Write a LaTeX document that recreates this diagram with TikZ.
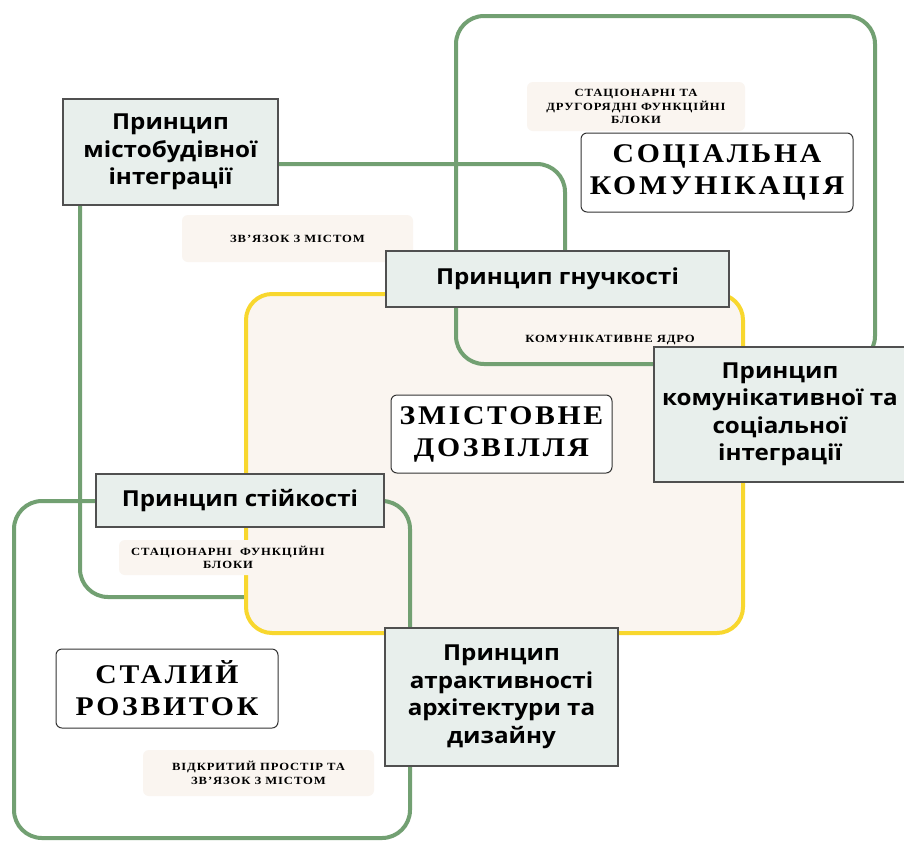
\documentclass[tikz,border=0pt]{standalone}
\usepackage{fontspec}
\setmainfont{Liberation Serif}
\newfontfamily\sansbold[FakeStretch=1.1]{Open Sans}
\newfontfamily\titlefont[LetterSpace=10,FakeStretch=1.1]{Liberation Serif}
\newfontfamily\labelfont[LetterSpace=8,FakeStretch=1.15]{Liberation Serif}
\definecolor{grn}{HTML}{72A072}
\definecolor{ylw}{HTML}{F8D72E}
\definecolor{beige}{HTML}{FAF5F0}
\definecolor{boxfill}{HTML}{E8EFEC}
\definecolor{boxline}{HTML}{505050}
\tikzset{
  region/.style={draw=grn, line width=4pt, rounded corners=28pt},
  core/.style={draw=ylw, fill=beige, line width=4pt, rounded corners=26pt},
  pbox/.style={draw=boxline, line width=1.2pt, fill=boxfill, align=center, inner sep=0pt,
    font=\sansbold\bfseries\fontsize{22}{27.5}\selectfont},
  tbox/.style={draw=black!80, line width=1pt, fill=white, rounded corners=6pt, align=center, inner sep=0pt,
    font=\titlefont\bfseries\fontsize{27}{32}\selectfont},
  lbox/.style={fill=beige, rounded corners=6pt, align=center, inner sep=0pt,
    font=\labelfont\bfseries\fontsize{11}{13.5}\selectfont},
}
\begin{document}
\begin{tikzpicture}[x=1pt,y=-1pt]
\useasboundingbox[fill=white] (0,0) rectangle (904,841);
% urban integration region (under the core)
\coordinate (m1) at (80,164);
\coordinate (m2) at (565,597);
\draw[region] (m1) rectangle (m2);
% core: meaningful leisure
\coordinate (y1) at (246,294);
\coordinate (y2) at (743,633);
\draw[core] (y1) rectangle (y2);
% social communication region
\coordinate (s1) at (456,16);
\coordinate (s2) at (875,364);
\draw[region] (s1) rectangle (s2);
% sustainable development region
\coordinate (d1) at (14,501);
\coordinate (d2) at (410,838);
\draw[region] (d1) rectangle (d2);

% labels
\node[lbox, minimum width=218, minimum height=49] (l1) at (636,106.5)
  {СТАЦІОНАРНІ ТА\\ДРУГОРЯДНІ ФУНКЦІЙНІ\\БЛОКИ};
\node[lbox, minimum width=231, minimum height=47] (l2) at (297.5,238.5) {ЗВ’ЯЗОК З МІСТОМ};
\node[lbox] (l3) at (610,340) {КОМУНІКАТИВНЕ ЯДРО};
\node[lbox, minimum width=218, minimum height=35] (l4) at (228,557.5)
  {СТАЦІОНАРНІ\ \ ФУНКЦІЙНІ\\БЛОКИ};
\node[lbox, minimum width=231, minimum height=46] (l5) at (258.5,773)
  {ВІДКРИТИЙ ПРОСТІР ТА\\ЗВ’ЯЗОК З МІСТОМ};

% titles
\node[tbox, minimum width=272, minimum height=79] (soc) at (717,172.5) {СОЦІАЛЬНА\\КОМУНІКАЦІЯ};
\node[tbox, minimum width=221, minimum height=78] (zmist) at (501.5,434) {ЗМІСТОВНЕ\\ДОЗВІЛЛЯ};
\node[tbox, minimum width=222, minimum height=79] (stal) at (167,688.5) {СТАЛИЙ\\РОЗВИТОК};

% principle boxes
\node[pbox, minimum width=215, minimum height=106] (mist) at (170.5,152)
  {Принцип\\містобудівної\\інтеграції};
\node[pbox, minimum width=343, minimum height=56] (gnuch) at (557.5,279) {Принцип гнучкості};
\node[pbox, minimum width=252, minimum height=135] (komun) at (780,414.5)
  {Принцип\\комунікативної та\\соціальної\\інтеграції};
\node[pbox, minimum width=288, minimum height=53] (stiyk) at (240,500.5) {Принцип стійкості};
\node[pbox, minimum width=233, minimum height=138] (atrak) at (501.5,697)
  {Принцип\\атрактивності\\архітектури та\\дизайну};
\end{tikzpicture}
\end{document}
